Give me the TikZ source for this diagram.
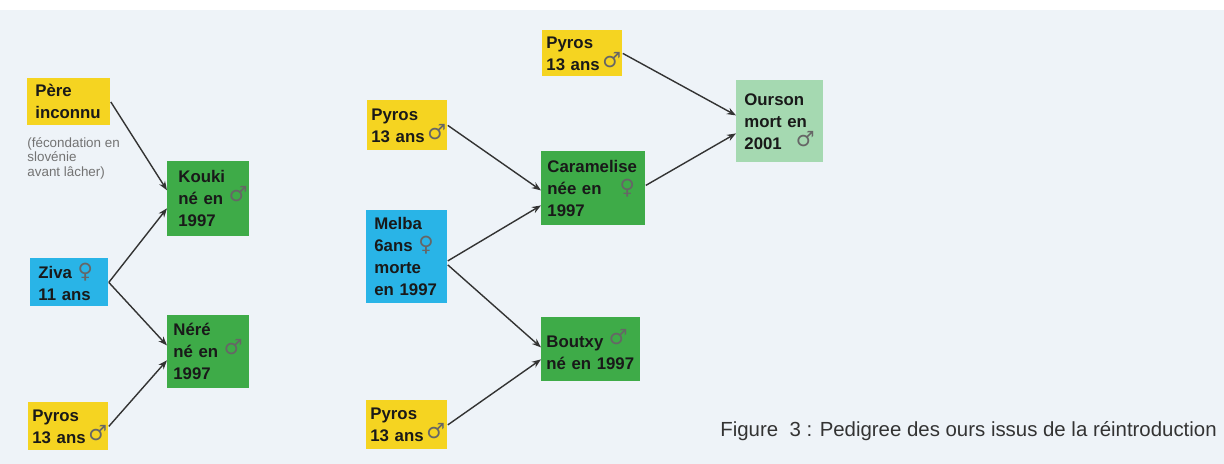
\documentclass[tikz,border=0pt]{standalone}
\usepackage{fontspec}
\setmainfont{Liberation Sans}
\newfontfamily\symfont{DejaVu Sans}
\usetikzlibrary{arrows.meta,positioning,calc}
\definecolor{bgblue}{HTML}{EEF3F8}
\definecolor{yelbox}{HTML}{F5D421}
\definecolor{grnbox}{HTML}{3EAB48}
\definecolor{blubox}{HTML}{29B4E7}
\definecolor{palebox}{HTML}{A5D9B1}
\newcommand{\male}{\makebox[0pt][l]{\symfont\mdseries\fontsize{10.5}{11}\selectfont\color{black!60}\raisebox{1.5pt}{\char"2642}}}
\newcommand{\female}{\makebox[0pt][l]{\symfont\mdseries\fontsize{10.5}{11}\selectfont\color{black!60}\char"2640}}
\tikzset{
  bear/.style={rectangle, fill=#1, anchor=north west, align=left, inner xsep=4pt, inner ysep=0pt,
               font=\bfseries\fontsize{8.4}{11}\selectfont, text=black!90},
  note/.style={anchor=north west, align=left, inner sep=0pt, text=black!55,
               font=\fontsize{6.7}{7.3}\selectfont},
  arr/.style={-{Stealth[length=1.6mm,width=1.2mm]}, line width=0.7pt, black!80},
}
\begin{document}
\begin{tikzpicture}[x=0.5pt, y=-0.5pt]
\useasboundingbox (0,0) rectangle (1224,464);
\fill[white] (0,0) rectangle (1224,464);
\fill[bgblue] (0,10) rectangle (1224,464);
% first litter (Ziva)
\node[bear=yelbox, text width=33.5pt, minimum height=23.5pt] (pere) at (27,78) {Père\\inconnu};
\node[note] (fecond) at (27,137) {(fécondation en\\slovénie\\ avant lâcher)};
\node[bear=blubox, text width=31pt, minimum height=24pt] (ziva) at (30,258) {Ziva \female\\11 ans};
\node[bear=yelbox, text width=36pt, minimum height=24pt, inner xsep=2pt] (pyrosA) at (28,402) {Pyros\\13 ans\,\male};
\node[bear=grnbox, text width=30pt, minimum height=37.5pt, inner xsep=5.5pt] (kouki) at (167,161) {Kouki\\né en \male\\1997};
\node[bear=grnbox, text width=35pt, minimum height=36.5pt, inner xsep=3pt] (nere) at (167,315) {Néré\\né en \male\\1997};
% second litter (Melba)
\node[bear=yelbox, text width=36pt, minimum height=25pt, inner xsep=2pt] (pyrosC) at (367,100) {Pyros\\13 ans\,\male};
\node[bear=blubox, text width=32.5pt, minimum height=46.5pt] (melba) at (366,210) {Melba\\6ans \female\\morte\\en 1997};
\node[bear=yelbox, text width=36.5pt, minimum height=24.5pt, inner xsep=2pt] (pyrosD) at (366,400) {Pyros\\13 ans\,\male};
\node[bear=grnbox, text width=46pt, minimum height=37pt, inner xsep=3pt] (carm) at (541,151) {Caramelise\\née en\hspace{9pt}\female\\1997};
\node[bear=grnbox, text width=44.5pt, minimum height=32pt, inner xsep=2.5pt] (boutxy) at (541,317) {Boutxy \male\\né en 1997};
% third generation
\node[bear=yelbox, text width=36pt, minimum height=23pt, inner xsep=2pt] (pyrosB) at (542,30) {Pyros\\13 ans\,\male};
\node[bear=palebox, text width=35.5pt, minimum height=41pt] (ourson) at (736,80) {Ourson\\mort en\\2001\hspace{7pt}\male};
% filiation
\draw[arr] (pere.east) -- ([yshift=4.3pt]kouki.west);
\draw[arr] (ziva.east) -- ([yshift=-4.7pt]kouki.west);
\draw[arr] (ziva.east) -- ([yshift=3.2pt]nere.west);
\draw[arr] (pyrosA.east) -- ([yshift=-4.2pt]nere.west);
\draw[arr] (pyrosC.east) -- ([yshift=-1pt]carm.west);
\draw[arr] ([yshift=-2pt]melba.east) -- ([yshift=-8.5pt]carm.west);
\draw[arr] ([yshift=-4pt]melba.east) -- ([yshift=1pt]boutxy.west);
\draw[arr] (pyrosD.east) -- ([yshift=-5pt]boutxy.west);
\draw[arr] (pyrosB.east) -- ([yshift=3pt]ourson.west);
\draw[arr] ([yshift=1.5pt]carm.east) -- ([yshift=-6pt]ourson.west);
\node[anchor=west, inner sep=0pt, font=\fontsize{10.2}{12}\selectfont, text=black!80] (caption) at (720,431)
  {Figure\ \ 3 : Pedigree des ours issus de la réintroduction};
\end{tikzpicture}
\end{document}
